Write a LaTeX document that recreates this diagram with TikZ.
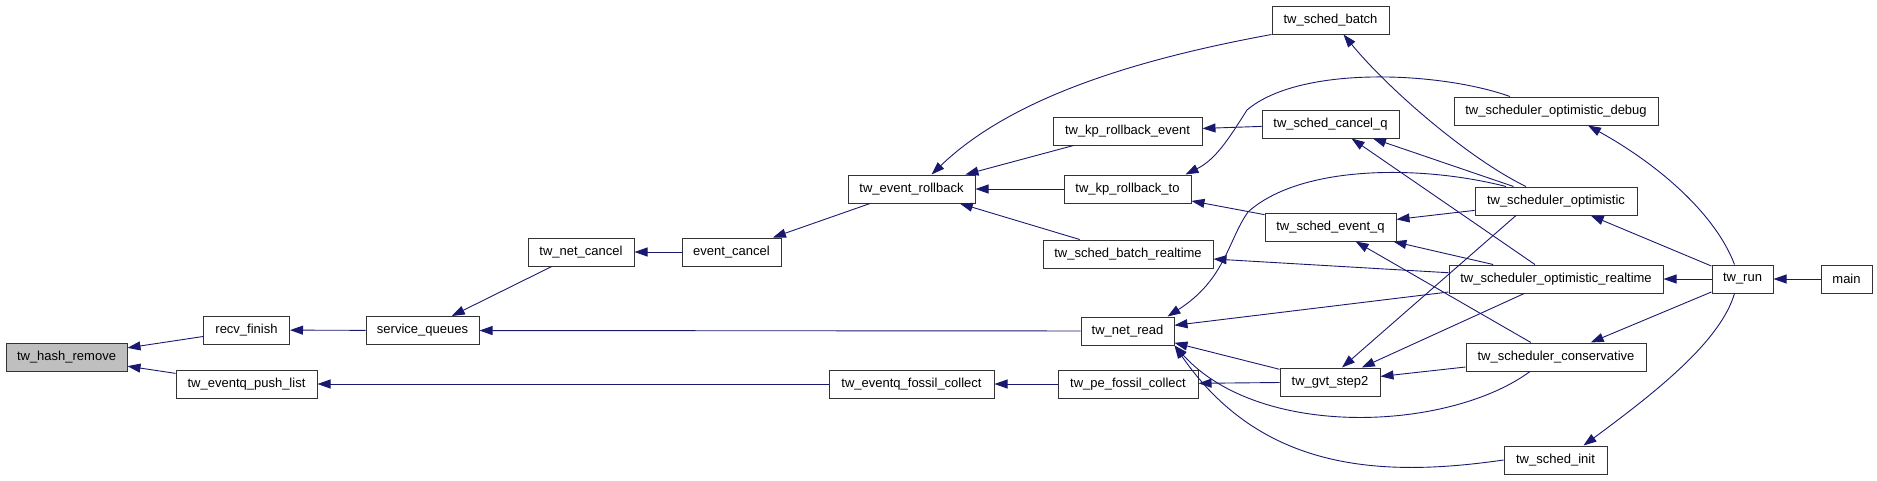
\documentclass[tikz,border=0pt]{standalone}
\usepackage{fontspec}
\setmainfont{Liberation Sans}
\usetikzlibrary{arrows.meta}
\definecolor{edgeblue}{HTML}{191970}
\definecolor{callgray}{HTML}{BFBFBF}

\begin{document}
\begin{tikzpicture}[x=1pt, y=-1pt,
    fn/.style={draw=black!80, line width=1pt, fill=white, minimum height=28pt,
        inner xsep=0pt, inner ysep=0pt, font=\fontsize{13}{15}\selectfont},
    call/.style={draw=edgeblue, line width=0.9pt, -{Triangle[length=13pt, width=9pt]}}]
    \useasboundingbox (0,0) rectangle (1877,480);

    % Functions, column by column (pixel grid, y grows downwards)
    \node[fn, fill=callgray, minimum width=121pt] (hash) at (66.5,357) {tw\_hash\_remove};
    \node[fn, minimum width=86pt] (recv) at (246.5,330) {recv\_finish};
    \node[fn, minimum width=141pt] (push) at (246.5,384) {tw\_eventq\_push\_list};
    \node[fn, minimum width=113pt] (service) at (422.5,330.5) {service\_queues};
    \node[fn, minimum width=106pt] (netcancel) at (581,252) {tw\_net\_cancel};
    \node[fn, minimum width=99pt] (evcancel) at (731.5,252) {event\_cancel};
    \node[fn, minimum width=127pt] (rollback) at (911.5,189) {tw\_event\_rollback};
    \node[fn, minimum width=165pt] (fossil) at (911.5,384) {tw\_eventq\_fossil\_collect};
    \node[fn, minimum width=149pt] (kpevent) at (1127.5,131) {tw\_kp\_rollback\_event};
    \node[fn, minimum width=127pt] (kpto) at (1127.5,189) {tw\_kp\_rollback\_to};
    \node[fn, minimum width=170pt] (batchrt) at (1128,254) {tw\_sched\_batch\_realtime};
    \node[fn, minimum width=93pt] (netread) at (1127.5,331) {tw\_net\_read};
    \node[fn, minimum width=140pt] (pefossil) at (1128,384) {tw\_pe\_fossil\_collect};
    \node[fn, minimum width=117pt] (batch) at (1330.5,20) {tw\_sched\_batch};
    \node[fn, minimum width=137pt] (cancelq) at (1330.5,124) {tw\_sched\_cancel\_q};
    \node[fn, minimum width=131pt] (eventq) at (1330.5,227) {tw\_sched\_event\_q};
    \node[fn, minimum width=100pt] (gvt) at (1330,382) {tw\_gvt\_step2};
    \node[fn, minimum width=204pt] (optdebug) at (1556,111) {tw\_scheduler\_optimistic\_debug};
    \node[fn, minimum width=162pt] (opt) at (1556,201) {tw\_scheduler\_optimistic};
    \node[fn, minimum width=214pt] (optrt) at (1556,279) {tw\_scheduler\_optimistic\_realtime};
    \node[fn, minimum width=180pt] (cons) at (1556,357) {tw\_scheduler\_conservative};
    \node[fn, minimum width=103pt] (init) at (1555.5,460) {tw\_sched\_init};
    \node[fn, minimum width=61pt] (run) at (1742.5,279) {tw\_run};
    \node[fn, minimum width=51pt] (main) at (1846.5,279) {main};

    % Straight calls (arrow points at the callee)
    \draw[call] (recv) -- (hash);
    \draw[call] (push) -- (hash);
    \draw[call] (service) -- (recv);
    \draw[call] (netcancel) -- (service);
    \draw[call] (netread) -- (service);
    \draw[call] (evcancel) -- (netcancel);
    \draw[call] (rollback) -- (evcancel);
    \draw[call] (fossil) -- (push);
    \draw[call] (pefossil) -- (fossil);
    \draw[call] (kpevent) -- (rollback);
    \draw[call] (kpto) -- (rollback);
    \draw[call] (batchrt) -- (rollback);
    \draw[call] (cancelq) -- (kpevent);
    \draw[call] (eventq) -- (kpto);
    \draw[call] (optrt) -- (batchrt);
    \draw[call] (optrt) -- (netread);
    \draw[call] (gvt) -- (netread);
    \draw[call] (gvt) -- (pefossil);
    \draw[call] (opt) -- (cancelq);
    \draw[call] (optrt) -- (cancelq);
    \draw[call] (opt) -- (eventq);
    \draw[call] (optrt) -- (eventq);
    \draw[call] (cons) -- (eventq);
    \draw[call] ([xshift=-40pt]opt.south) -- ([xshift=12pt]gvt.north);
    \draw[call] (optrt) -- (gvt);
    \draw[call] (cons) -- (gvt);
    \draw[call] (run) -- (opt);
    \draw[call] (run) -- (optrt);
    \draw[call] (run) -- (cons);
    \draw[call] (main) -- (run);

    % Curved calls
    \draw[call] (batch.south west) .. controls +(-142,26) and +(78,-75) .. ([xshift=20pt]rollback.north);
    \draw[call] ([xshift=-46pt]optdebug.north) .. controls +(-70,-25) and +(53,-45) .. (1247,110)
        .. controls +(-19,30) and +(30,-15) .. ([xshift=-6pt]kpto.north east);
    \draw[call] ([xshift=-30pt]opt.north) .. controls +(-56,-27) and +(46,56) .. ([xshift=13pt]batch.south);
    \draw[call] ([xshift=-50pt]opt.north) .. controls +(-86,-22) and +(52,-47) .. (1248,212)
        .. controls +(-20,28) and +(58,-37) .. ([xshift=-7pt]netread.north east);
    \draw[call] ([xshift=-26pt]cons.south) .. controls +(-80,59) and +(86,95) .. (netread.south east);
    \draw[call] (init.west) .. controls +(-124,18) and +(86,125) .. (netread.south east);
    \draw[call] ([xshift=-8pt]run.north) .. controls +(-19,-50) and +(72,40) .. ([xshift=32pt]optdebug.south);
    \draw[call] ([xshift=-8pt]run.south) .. controls +(-14,47) and +(76,-56) .. ([xshift=28pt]init.north);
\end{tikzpicture}
\end{document}
